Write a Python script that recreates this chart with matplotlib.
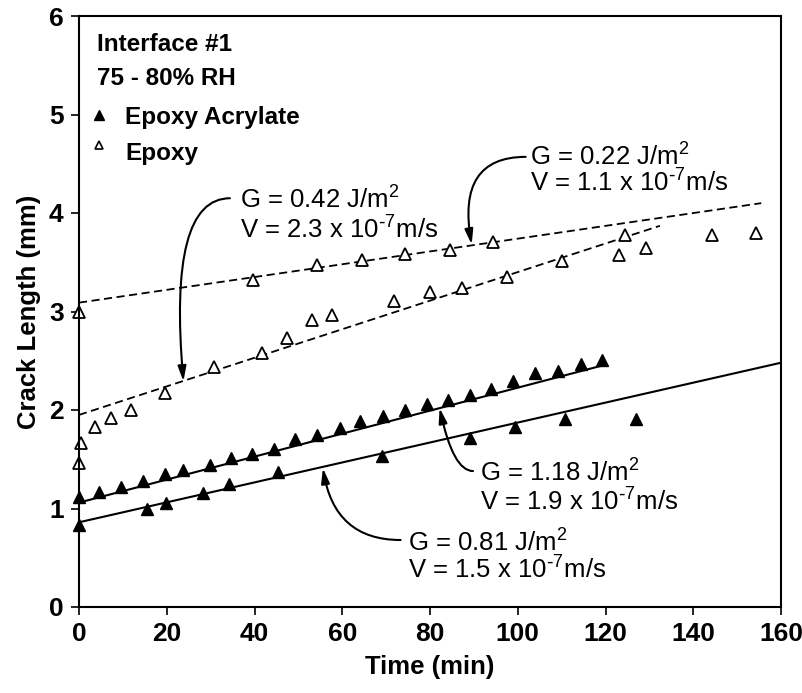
import numpy as np
import matplotlib.pyplot as plt

plt.rcParams['font.family'] = ['Liberation Sans', 'DejaVu Sans']
plt.rcParams['mathtext.default'] = 'regular'

# Epoxy acrylate (filled), upper run  (G = 1.18 J/m2)
acr_a_t = [0, 4.5, 9.6, 14.6, 19.7, 23.7, 29.8, 34.7, 39.4, 44.4, 49.3, 54.2, 59.4,
           64, 69.4, 74.3, 79.3, 84.2, 89.1, 94, 99, 104, 109.2, 114.5, 119.3]
acr_a_L = [1.12, 1.17, 1.22, 1.28, 1.35, 1.39, 1.44, 1.51, 1.55, 1.60, 1.71, 1.75, 1.82,
           1.89, 1.94, 2.0, 2.06, 2.10, 2.15, 2.21, 2.29, 2.38, 2.40, 2.47, 2.51]
# Epoxy acrylate (filled), lower run  (G = 0.81 J/m2)
acr_b_t = [0, 15.6, 19.9, 28.2, 34.3, 45.4, 69, 89.1, 99.3, 110.7, 126.9]
acr_b_L = [0.83, 0.99, 1.06, 1.16, 1.25, 1.37, 1.53, 1.72, 1.83, 1.91, 1.91]

# Epoxy (open), lower run  (G = 0.42 J/m2)
epx_a_t = [0, 0.5, 3.6, 7.3, 11.8, 19.7, 30.7, 41.7, 47.4, 53.1, 57.7, 71.7,
           80, 87.2, 97.5, 110, 123, 129.3]
epx_a_L = [1.46, 1.66, 1.83, 1.92, 2.0, 2.17, 2.44, 2.58, 2.73, 2.91, 2.96, 3.11,
           3.20, 3.24, 3.35, 3.51, 3.57, 3.64]
# Epoxy (open), upper run  (G = 0.22 J/m2)
epx_b_t = [0, 39.7, 54.2, 64.4, 74.3, 84.6, 94.4, 124.4, 144.2, 154.4]
epx_b_L = [3.0, 3.32, 3.47, 3.52, 3.58, 3.62, 3.71, 3.78, 3.78, 3.80]

# fitted lines (end points)
fit_acr_a = ([0, 120], [1.06, 2.46])
fit_acr_b = ([0, 160], [0.86, 2.48])
fit_epx_a = ([0, 132.4], [1.95, 3.87])
fit_epx_b = ([0, 155.5], [3.09, 4.10])

# annotations: text lines, text position, arrow tail, arrow tip, angle at tip
sup7 = '$^{\\text{-}7}$'
notes = [
    (['G = 0.42 J/m$^2$', 'V = 2.3 x 10' + sup7 + 'm/s'], (36.7, 4.13, 3.83), (34.4, 4.15), (23.8, 2.29), 95),
    (['G = 0.22 J/m$^2$', 'V = 1.1 x 10' + sup7 + 'm/s'], (102.7, 4.57, 4.30), (101.8, 4.57), (89.5, 3.68), 100),
    (['G = 1.18 J/m$^2$', 'V = 1.9 x 10' + sup7 + 'm/s'], (91.3, 1.36, 1.07), (89.8, 1.38), (82.2, 2.02), 102),
    (['G = 0.81 J/m$^2$', 'V = 1.5 x 10' + sup7 + 'm/s'], (74.9, 0.65, 0.38), (73.3, 0.68), (55.6, 1.41), 99),
]

fig = plt.figure(figsize=(8.02, 6.93), dpi=100)
ax = fig.add_axes([79 / 802, 1 - 607 / 693, 702 / 802, 591 / 693])

ax.plot(*fit_acr_a, 'k-', lw=1.5)
ax.plot(*fit_acr_b, 'k-', lw=1.5)
ax.plot(*fit_epx_a, 'k--', lw=1.3, dashes=(4.5, 2.5))
ax.plot(*fit_epx_b, 'k--', lw=1.3, dashes=(4.5, 2.5))

ax.plot(acr_a_t, acr_a_L, 'k^', ms=8, clip_on=False)
ax.plot(acr_b_t, acr_b_L, 'k^', ms=8, clip_on=False)
ax.plot(epx_a_t, epx_a_L, '^', ms=8.5, mfc='white', mec='k', mew=1.3, clip_on=False)
ax.plot(epx_b_t, epx_b_L, '^', ms=8.5, mfc='white', mec='k', mew=1.3, clip_on=False)

for lines, (tx, y1, y2), tail, tip, ang in notes:
    ax.text(tx, y1, lines[0], fontsize=18.5, va='center', ha='left')
    ax.text(tx, y2, lines[1], fontsize=18.5, va='center', ha='left')
    ax.annotate('', xy=tip, xytext=tail,
                arrowprops=dict(arrowstyle='-|>,head_length=0.9,head_width=0.25',
                                color='k', lw=1.5,
                                connectionstyle=f'angle3,angleA=180,angleB={ang}',
                                shrinkA=0, shrinkB=0))

# key in the top-left corner
ax.text(0.026, 0.951, 'Interface #1', transform=ax.transAxes, fontsize=17.5,
        fontweight='bold', va='center')
ax.text(0.026, 0.895, '75 - 80% RH', transform=ax.transAxes, fontsize=17.5,
        fontweight='bold', va='center')
ax.plot([0.0285], [0.832], 'k^', ms=7, transform=ax.transAxes)
ax.text(0.0655, 0.829, 'Epoxy Acrylate', transform=ax.transAxes, fontsize=17.5,
        fontweight='bold', va='center')
ax.plot([0.0285], [0.782], '^', ms=6, mfc='white', mec='k', mew=1.2, transform=ax.transAxes)
ax.text(0.0655, 0.768, 'Epoxy', transform=ax.transAxes, fontsize=17.5,
        fontweight='bold', va='center')

ax.set_xlim(0, 160)
ax.set_ylim(0, 6)
ax.set_xticks(np.arange(0, 161, 20))
ax.set_yticks(np.arange(0, 7, 1))
ax.tick_params(direction='out', length=6, width=1.2, labelsize=19, pad=5)
for lab in ax.get_xticklabels() + ax.get_yticklabels():
    lab.set_fontweight('bold')
for s in ax.spines.values():
    s.set_linewidth(1.5)

ax.set_xlabel('Time (min)', fontsize=18.5, fontweight='bold', labelpad=6)
ax.set_ylabel('Crack Length (mm)', fontsize=18.5, fontweight='bold', labelpad=6)

fig.savefig('out.png', dpi=100)
